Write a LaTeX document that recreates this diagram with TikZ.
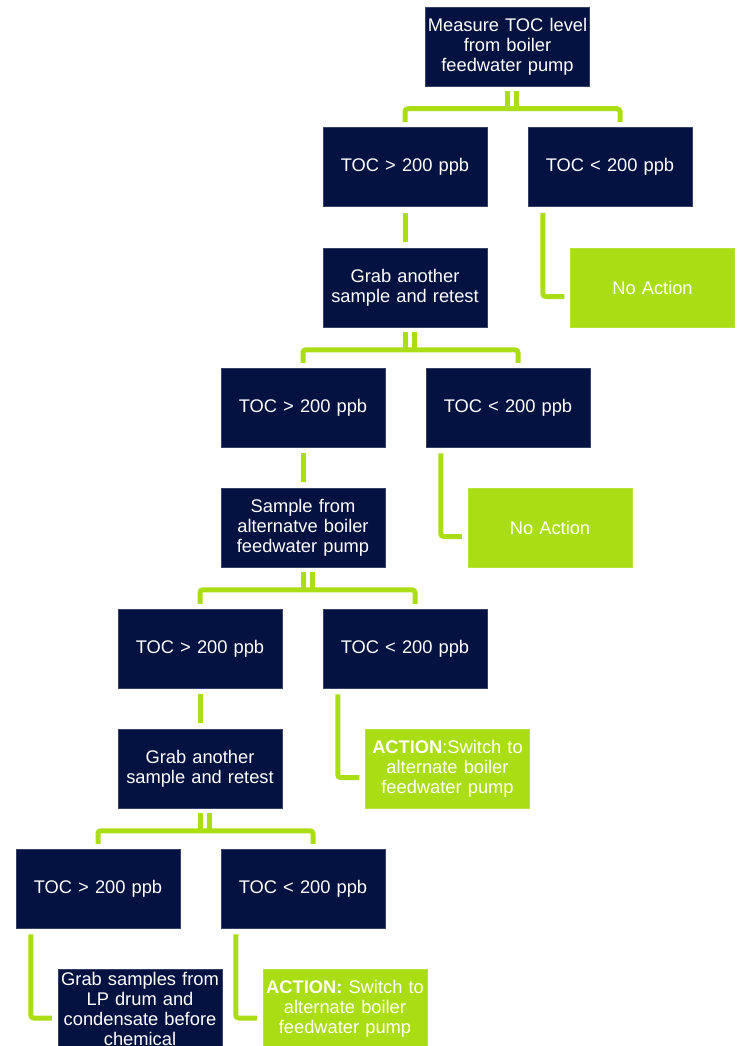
\documentclass[tikz,border=0pt]{standalone}
\usepackage{fontspec}
\setmainfont{Liberation Sans}
\usetikzlibrary{calc}
\definecolor{navy}{HTML}{041241}
\definecolor{lime}{HTML}{ABDD14}
\tikzset{
 box/.style={rectangle, fill=navy, draw=navy!80!white, line width=0.5pt, text=white,
   minimum width=164pt, minimum height=79pt, text width=162pt, inner xsep=1pt, inner ysep=0pt,
   align=center, font=\fontsize{18.3}{19.8}\selectfont},
 gbox/.style={box, fill=lime, draw=lime!85!white},
 conn/.style={draw=lime, line width=5pt, rounded corners=3pt},
 bar/.style={draw=lime, line width=5pt},
}
\newcommand\branch[3]{%
  \coordinate (mid) at ($(#1.south)+(0,22.5)$);
  \coordinate (rr) at ($(#3.north)+(10,-5)$);
  \draw[bar] ($(#1.south)+(0,5)$) -- ($(mid)+(0,2.5)$);
  \draw[bar] ($(#1.south)+(9,5)$) -- ($(mid)+(9,2.5)$);
  \draw[conn] ($(#2.north)+(0,-5)$) -- (#2.north |- mid) -- (rr |- mid) -- (rr);
}
\newcommand\straight[2]{%
  \draw[conn] ($(#1.south)+(0,6)$) -- ($(#2.north)+(0,-6)$);
}
\newcommand\side[2]{%
  \draw[conn] ($(#1.south west)+(15,6)$) |- ($(#2.west)+(-6,9)$);
}
\begin{document}
\begin{tikzpicture}[x=1pt,y=-1pt]
\clip (0,0) rectangle (740,1046);
\fill[white] (0,0) rectangle (740,1046);

\node[box] (m) at (507.5,46.5) {Measure TOC level\\from boiler\\feedwater pump};

\node[box] (a1) at (405,167) {TOC > 200 ppb};
\node[box] (b1) at (610,167) {TOC < 200 ppb};
\node[box] (g1) at (405,287.5) {Grab another\\sample and retest};
\node[gbox] (n1) at (652.5,287.5) {No Action};

\node[box] (a2) at (303,407.5) {TOC > 200 ppb};
\node[box] (b2) at (508,407.5) {TOC < 200 ppb};
\node[box] (s) at (303,527.5) {Sample from\\alternatve boiler\\feedwater pump};
\node[gbox] (n2) at (550,527.5) {No Action};

\node[box] (a3) at (200,648.5) {TOC > 200 ppb};
\node[box] (b3) at (405,648.5) {TOC < 200 ppb};
\node[box] (g3) at (200,768.5) {Grab another\\sample and retest};
\node[gbox] (act3) at (447.5,768.5) {\textbf{ACTION}:Switch to\\alternate boiler\\feedwater pump};

\node[box] (a4) at (98,888.5) {TOC > 200 ppb};
\node[box] (b4) at (303,888.5) {TOC < 200 ppb};
\node[box] (lp) at (140,1009) {Grab samples from\\LP drum and\\condensate before\\chemical};
\node[gbox] (act4) at (345,1009) {\textbf{ACTION:} Switch to\\alternate boiler\\feedwater pump};

\branch{m}{a1}{b1}
\straight{a1}{g1}
\side{b1}{n1}

\branch{g1}{a2}{b2}
\straight{a2}{s}
\side{b2}{n2}

\branch{s}{a3}{b3}
\straight{a3}{g3}
\side{b3}{act3}

\branch{g3}{a4}{b4}
\side{a4}{lp}
\side{b4}{act4}
\end{tikzpicture}
\end{document}
